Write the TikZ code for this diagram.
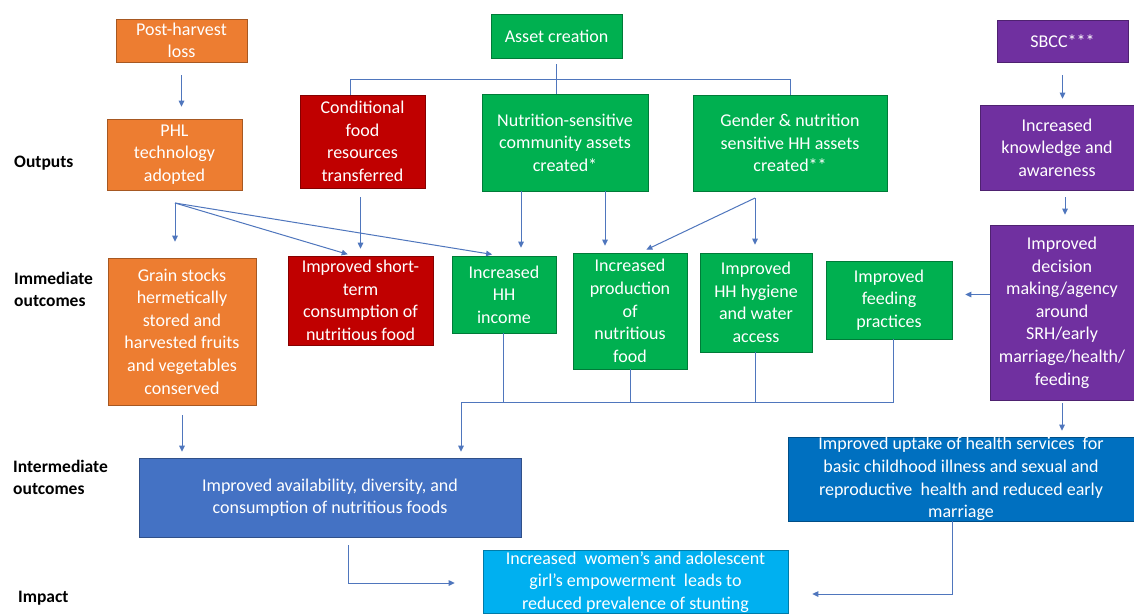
\documentclass[tikz,border=0pt]{standalone}
\usepackage{fontspec}
\setmainfont{Carlito}
\usetikzlibrary{arrows.meta}

\definecolor{phlorange}{HTML}{ED7D31}
\definecolor{fooddred}{HTML}{C00000}
\definecolor{assetgreen}{HTML}{00B050}
\definecolor{sbccpurple}{HTML}{7030A0}
\definecolor{availblue}{HTML}{4472C4}
\definecolor{healthblue}{HTML}{0070C0}
\definecolor{impactcyan}{HTML}{00B0F0}
\definecolor{linkblue}{HTML}{4F76BD}

\begin{document}
\begin{tikzpicture}[
        x=1pt, y=1pt,
        box/.style={draw=#1!70!black, fill=#1, text=white, align=center, inner sep=1pt, line width=0.6pt, font=\fontsize{18}{22.6}\selectfont},
        stage/.style={anchor=west, align=left, inner sep=0pt, font=\fontsize{17.5}{22}\selectfont\bfseries},
        link/.style={draw=linkblue, line width=1pt},
        arr/.style={link, -{Triangle[length=6pt,width=5.5pt]}}
    ]
        \fill[white] (0,0) rectangle (1134,-614);
        \useasboundingbox (0,0) rectangle (1134,-614);

        % Stage labels
        \node[stage] (outputs) at (14,-163) {Outputs};
        \node[stage] (immed) at (14,-289) {Immediate\\outcomes};
        \node[stage] (inter) at (13,-477) {Intermediate\\outcomes};
        \node[stage] (impactlbl) at (18,-598) {Impact};

        % Activities and outputs
        \node[box=phlorange, minimum width=131, minimum height=43] (loss) at (181.5,-40.5) {Post-harvest\\loss};
        \node[box=phlorange, minimum width=135, minimum height=71] (phl) at (174.5,-154.5) {PHL\\technology\\adopted};
        \node[box=fooddred, minimum width=125, minimum height=93] (cond) at (362.5,-141.5) {Conditional\\food\\resources\\transferred};
        \node[box=assetgreen, minimum width=131, minimum height=44] (asset) at (556.5,-36) {Asset creation};
        \node[box=assetgreen, minimum width=166, minimum height=97] (commun) at (565,-142.5) {Nutrition-sensitive\\community assets\\created*};
        \node[box=assetgreen, minimum width=194, minimum height=96] (gender) at (790,-143) {Gender \& nutrition\\sensitive HH assets\\created**};
        \node[box=sbccpurple, minimum width=131, minimum height=42] (sbcc) at (1062.5,-41) {SBCC***};
        \node[box=sbccpurple, minimum width=154, minimum height=85] (know) at (1057,-147.5) {Increased\\knowledge and\\awareness};

        % Immediate outcomes
        \node[box=phlorange, minimum width=148, minimum height=147] (grain) at (182,-331.5) {Grain stocks\\hermetically\\stored and\\harvested fruits\\and vegetables\\conserved};
        \node[box=fooddred, minimum width=145, minimum height=89] (stc) at (360.5,-300.5) {Improved short-\\term\\consumption of\\nutritious food};
        \node[box=assetgreen, minimum width=104, minimum height=77] (income) at (504,-294.5) {Increased\\HH\\income};
        \node[box=assetgreen, minimum width=114, minimum height=116] (prod) at (630,-311) {Increased\\production\\of\\nutritious\\food};
        \node[box=assetgreen, minimum width=112, minimum height=99] (hyg) at (756,-302.5) {Improved\\HH hygiene\\and water\\access};
        \node[box=assetgreen, minimum width=126, minimum height=78] (feed) at (889,-300) {Improved\\feeding\\practices};
        \node[box=sbccpurple, minimum width=144, minimum height=175] (decis) at (1062,-312.5) {Improved\\decision\\making/agency\\around\\SRH/early\\marriage/health/\\feeding};

        % Intermediate outcomes and impact
        \node[box=availblue, minimum width=382, minimum height=79] (avail) at (330,-497.5) {Improved availability, diversity, and\\consumption of nutritious foods};
        \node[box=healthblue, minimum width=346, minimum height=84, inner ysep=0pt] (health) at (961,-479) {Improved uptake of health services\ \ for\\basic childhood illness and sexual and\\reproductive\ \ health and reduced early\\marriage};
        \node[box=impactcyan, minimum width=305, anchor=north, inner ysep=1pt] (impact) at (635.5,-550) {Increased\ \ women’s and adolescent\\girl’s empowerment\ \ leads to\\reduced prevalence of stunting};

        % Helper points
        \coordinate (aL) at (350,-79);
        \coordinate (aR) at (790,-79);
        \coordinate (fan) at (175,-203);
        \coordinate (gfan) at (755,-198);
        \coordinate (jL) at (461,-402);
        \coordinate (jR) at (893,-402);
        \coordinate (ib) at (348,-583);
        \coordinate (hb) at (952,-594);

        % Top connectors
        \draw[arr, shorten <=13pt, shorten >=12pt] (loss.south) -- (loss.south |- phl.north);
        \draw[link, shorten <=6pt] (asset.south) -- (asset.south |- aL);
        \draw[link] (aL |- cond.north) -- (aL) -- (aR) -- (aR |- gender.north);
        \draw[link] (asset.south |- aL) -- (asset.south |- commun.north);
        \draw[arr, shorten <=13pt, shorten >=6pt] (sbcc.south) -- (sbcc.south |- know.north);
        \draw[arr, shorten <=7pt, shorten >=10pt] ([xshift=8]know.south) -- ([xshift=8]know.south |- decis.north);

        % Outputs to immediate outcomes
        \draw[arr, shorten >=16pt] (fan) -- (fan |- grain.north);
        \draw[arr, shorten >=5pt] (fan) -- ([xshift=-8]stc.north);
        \draw[arr, shorten >=8pt] (fan) -- ([xshift=-4]income.north);
        \draw[arr, shorten <=9pt, shorten >=7pt] ([xshift=-2]cond.south) -- ([xshift=-2]cond.south |- stc.north);
        \draw[arr, shorten >=8pt] ([xshift=-44]commun.south) -- ([xshift=-44]commun.south |- income.north);
        \draw[arr, shorten >=7pt] ([xshift=40]commun.south) -- ([xshift=40]commun.south |- prod.north);
        \draw[arr, shorten >=7pt] (gfan) -- ([xshift=10]prod.north);
        \draw[arr, shorten >=8pt] (gfan) -- (gfan |- hyg.north);
        \draw[arr, shorten >=13pt] ([yshift=18]decis.west) -- ([yshift=18]decis.west -| feed.east);

        % Immediate to intermediate outcomes
        \draw[link] ([xshift=-1]income.south) -- ([xshift=-1]income.south |- jL);
        \draw[link] (prod.south) -- (prod.south |- jL);
        \draw[link] ([xshift=-1]hyg.south) -- ([xshift=-1]hyg.south |- jL);
        \draw[link] ([xshift=4]feed.south) -- (jR) -- (jL);
        \draw[arr, shorten >=6pt] (jL) -- (jL |- avail.north);
        \draw[arr, shorten <=10pt, shorten >=6pt] (grain.south) -- (grain.south |- avail.north);
        \draw[arr, shorten <=3pt, shorten >=6pt] (decis.south) -- (decis.south |- health.north);

        % Intermediate outcomes to impact
        \draw[arr, shorten >=28pt] ([xshift=18]avail.south) ++(0,-8) -- (ib) -- (ib -| impact.west);
        \draw[arr, shorten >=24pt] ([xshift=-9]health.south) -- (hb) -- (hb -| impact.east);
    \end{tikzpicture}
\end{document}
